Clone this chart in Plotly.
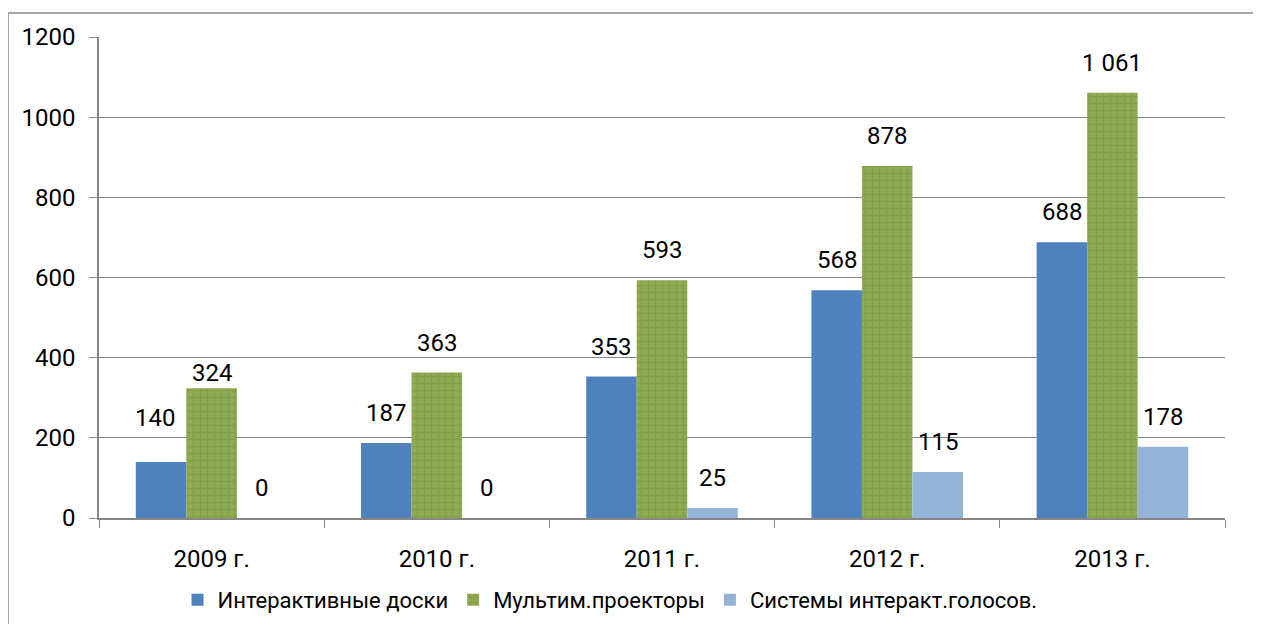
import plotly.graph_objects as go

categories = ["2009 г.", "2010 г.", "2011 г.", "2012 г.", "2013 г."]
boards = [140, 187, 353, 568, 688]
projectors = [324, 363, 593, 878, 1061]
voting = [0, 0, 25, 115, 178]
series_names = ["Интерактивные доски", "Мультим.проекторы", "Системы интеракт.голосов."]

FONT = "Roboto"
OFF = 8  # page body margin
W, H = 1261, 624
L, R, T, B = 99 - OFF, 1261 - 1225 + OFF, 37 - OFF, 624 - 518 + OFF
pw, ph = W - L - R, H - T - B

fig = go.Figure()
fig.add_trace(go.Bar(x=categories, y=boards, name=series_names[0],
                     marker=dict(color="#4f81bd", line=dict(width=0))))
fig.add_trace(go.Bar(x=categories, y=projectors, name=series_names[1],
                     marker=dict(color="#8eab53", line=dict(width=0),
                                 pattern=dict(shape="+", fgcolor="#769239", bgcolor="#8fac55",
                                              size=7, solidity=0.35))))
fig.add_trace(go.Bar(x=categories, y=voting, name=series_names[2],
                     marker=dict(color="#95b3d7", line=dict(width=0))))

def fmt(v):
    return f"{v:,}".replace(",", " ")

bar_px = pw / len(categories) * (1 - 0.327) / 3
special = {(0, 0): 44, (1, 0): 15.5}
for si, vals in enumerate([boards, projectors, voting]):
    for ci, v in enumerate(vals):
        fig.add_annotation(x=categories[ci], y=v, text=fmt(v), showarrow=False,
                           xref="x", yref="y", yanchor="middle", xanchor="center",
                           xshift=(si - 1) * bar_px - (6 if (si, ci) == (0, 0) else 0),
                           yshift=special.get((si, ci), 30),
                           font=dict(family=FONT, size=24, color="#000000"))

fig.add_shape(type="rect", xref="paper", yref="paper",
              x0=(8 - OFF - L) / pw, x1=1.5, y0=-1, y1=1 + (T - (13 - OFF)) / ph,
              line=dict(color="#898989", width=1.5), fillcolor="rgba(0,0,0,0)", layer="below")

fig.update_layout(
    width=W, height=H,
    margin=dict(l=L, r=R, t=T, b=B, autoexpand=False),
    paper_bgcolor="white", plot_bgcolor="white",
    barmode="group", bargap=0.327, bargroupgap=0,
    font=dict(family=FONT, size=24, color="#000000"),
    showlegend=True,
    legend=dict(orientation="h", x=(610 - 99) / pw, xanchor="center",
                y=-(600 - 518) / ph, yanchor="middle",
                font=dict(family=FONT, size=22), itemwidth=30, tracegroupgap=0),
)
fig.update_xaxes(showline=True, linecolor="#868686", linewidth=1.5,
                 ticks="outside", ticklen=8, tickcolor="#868686", tickson="boundaries",
                 ticklabelstandoff=18, showgrid=False,
                 tickfont=dict(family=FONT, size=24))
fig.update_yaxes(range=[0, 1200], dtick=200, showline=True, linecolor="#868686", linewidth=1.5,
                 ticks="outside", ticklen=8, tickcolor="#868686",
                 showgrid=True, gridcolor="#868686", gridwidth=1,
                 ticklabelstandoff=9, zeroline=False,
                 tickfont=dict(family=FONT, size=24))

fig.write_html("out.html")
